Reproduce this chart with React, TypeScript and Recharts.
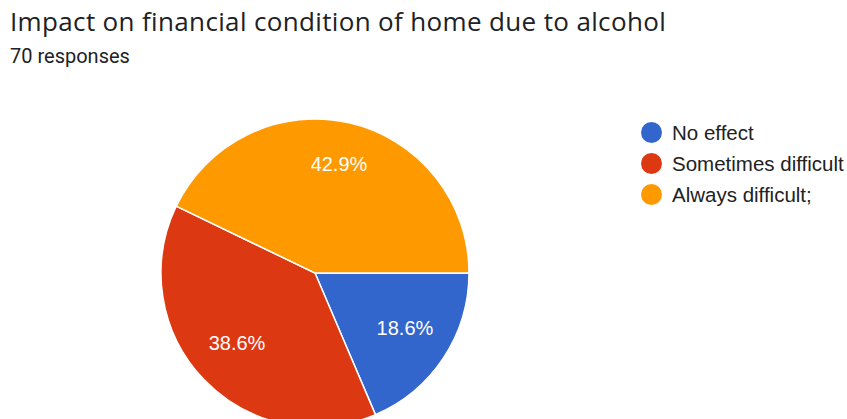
import React from "react";
import { PieChart, Pie, Cell, Legend } from "recharts";

const categories = ["No effect", "Sometimes difficult", "Always difficult;"];
const percentages = [18.6, 38.6, 42.9];
const colors = ["#3366CC", "#DC3912", "#FF9900"];
const titleText = "Impact on financial condition of home due to alcohol";
const subtitleText = "70 responses";

const data = categories.map((name, i) => ({ name, value: percentages[i] }));

const RAD = Math.PI / 180;

const renderLabel = (props: any) => {
  const { cx, cy, midAngle, outerRadius, index } = props;
  const r = outerRadius * 0.7;
  const x = cx + r * Math.cos(-midAngle * RAD);
  const y = cy + r * Math.sin(-midAngle * RAD) - 4;
  return (
    <text
      x={x}
      y={y}
      fill="#ffffff"
      textAnchor="middle"
      dominantBaseline="central"
      fontFamily="'Liberation Sans', Arial, sans-serif"
      fontSize={20}
    >
      {`${percentages[index].toFixed(1)}%`}
    </text>
  );
};

const renderLegend = () => (
  <div style={{ fontFamily: "'Liberation Sans', Arial, sans-serif", fontSize: 20.5, color: "#222222" }}>
    {categories.map((c, i) => (
      <div key={c} style={{ display: "flex", alignItems: "center", height: 31, whiteSpace: "nowrap" }}>
        <svg width={21} height={21} style={{ marginRight: 10 }}>
          <circle cx={10.5} cy={10.5} r={10.5} fill={colors[i]} />
        </svg>
        <span>{c}</span>
      </div>
    ))}
  </div>
);

export default function App() {
  return (
    <div style={{ position: "absolute", left: 0, top: 0, width: 847, height: 419, overflow: "hidden", background: "#ffffff" }}>
      <div
        style={{
          position: "absolute",
          left: 10,
          top: 3,
          fontFamily: "'Open Sans', sans-serif",
          fontSize: 26,
          letterSpacing: 0.35,
          color: "#202124",
          whiteSpace: "nowrap",
          lineHeight: "36px",
        }}
      >
        {titleText}
      </div>
      <div
        style={{
          position: "absolute",
          left: 10,
          top: 43,
          fontFamily: "Roboto, sans-serif",
          fontSize: 20,
          color: "#202124",
          whiteSpace: "nowrap",
          lineHeight: "26px",
        }}
      >
        {subtitleText}
      </div>
      <PieChart
        width={847}
        height={419}
        margin={{ top: 0, right: 0, bottom: 0, left: 0 }}
        style={{ position: "absolute", left: 0, top: 0 }}
      >
        <Pie
          data={data}
          dataKey="value"
          nameKey="name"
          cx={315}
          cy={273}
          outerRadius={154}
          startAngle={0}
          endAngle={-360}
          stroke="#ffffff"
          strokeWidth={1.5}
          label={renderLabel}
          labelLine={false}
          isAnimationActive={false}
        >
          {data.map((d, i) => (
            <Cell key={d.name} fill={colors[i]} />
          ))}
        </Pie>
        <Legend
          content={renderLegend}
          layout="vertical"
          wrapperStyle={{ position: "absolute", left: 641, top: 117, width: 220 }}
        />
      </PieChart>
    </div>
  );
}
